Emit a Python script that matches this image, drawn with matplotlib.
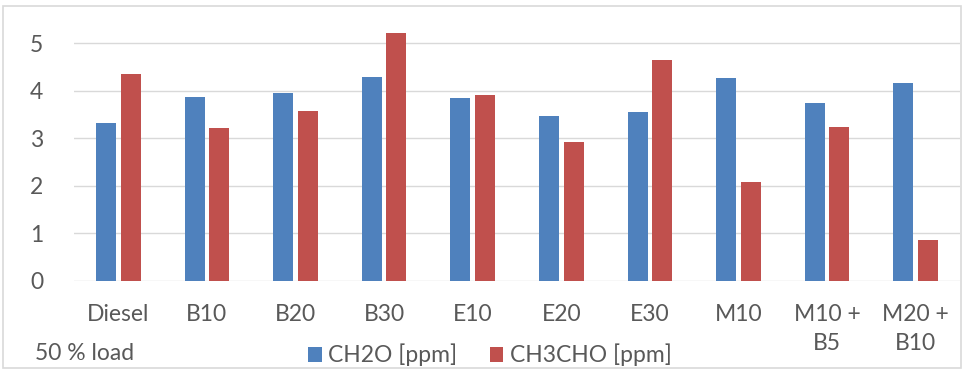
import matplotlib.pyplot as plt
from matplotlib.patches import Rectangle
import numpy as np

plt.rcParams['font.family'] = ['Lato', 'DejaVu Sans']

categories = ['Diesel', 'B10', 'B20', 'B30', 'E10', 'E20', 'E30', 'M10',
              'M10 +\nB5', 'M20 +\nB10']
ch2o = [3.32, 3.88, 3.95, 4.30, 3.84, 3.48, 3.55, 4.26, 3.75, 4.16]
ch3cho = [4.35, 3.22, 3.57, 5.22, 3.92, 2.92, 4.65, 2.07, 3.23, 0.86]
y_ticks = [0, 1, 2, 3, 4, 5]

blue = '#4F81BD'
red = '#C0504D'
text_col = '#595959'
fs = 16.5

fig = plt.figure(figsize=(9.67, 3.74), dpi=100)
ax = fig.add_axes([74 / 967, 1 - 280.7 / 374, (960 - 74) / 967, 5.5 * 47.47 / 374])

x = np.arange(len(categories))
w = 0.225
off = 0.139
ax.bar(x - off, ch2o, w, color=blue, label='CH2O [ppm]', zorder=3)
ax.bar(x + off, ch3cho, w, color=red, label='CH3CHO [ppm]', zorder=3)

ax.set_xlim(-0.5, len(categories) - 0.5)
ax.set_ylim(0, 5.5)
ax.set_yticks(y_ticks)
ax.set_xticks(x)
ax.set_xticklabels(categories, fontsize=fs, color=text_col, linespacing=1.45,
                   va='top')
ax.tick_params(axis='y', labelsize=fs, labelcolor=text_col, length=0, pad=22)
ax.tick_params(axis='x', length=0, pad=17)
ax.yaxis.grid(True, color='#D9D9D9', linewidth=1, zorder=0)
for s in ax.spines.values():
    s.set_visible(False)

fig.legend(loc='center', bbox_to_anchor=(490 / 967, 1 - 355 / 374), ncol=2,
           frameon=False, fontsize=fs, handlelength=0.6, handleheight=0.6,
           handletextpad=0.3, columnspacing=1.4, labelcolor=text_col)
fig.text(35 / 967, 1 - 353 / 374, '50 % load', fontsize=fs, color=text_col,
         va='center', ha='left')

fig.patches.append(Rectangle((3 / 967, 6 / 374), 958 / 967, 362 / 374,
                             transform=fig.transFigure, fill=False,
                             edgecolor='#D9D9D9', linewidth=1.2))

fig.savefig('out.png', dpi=100)
